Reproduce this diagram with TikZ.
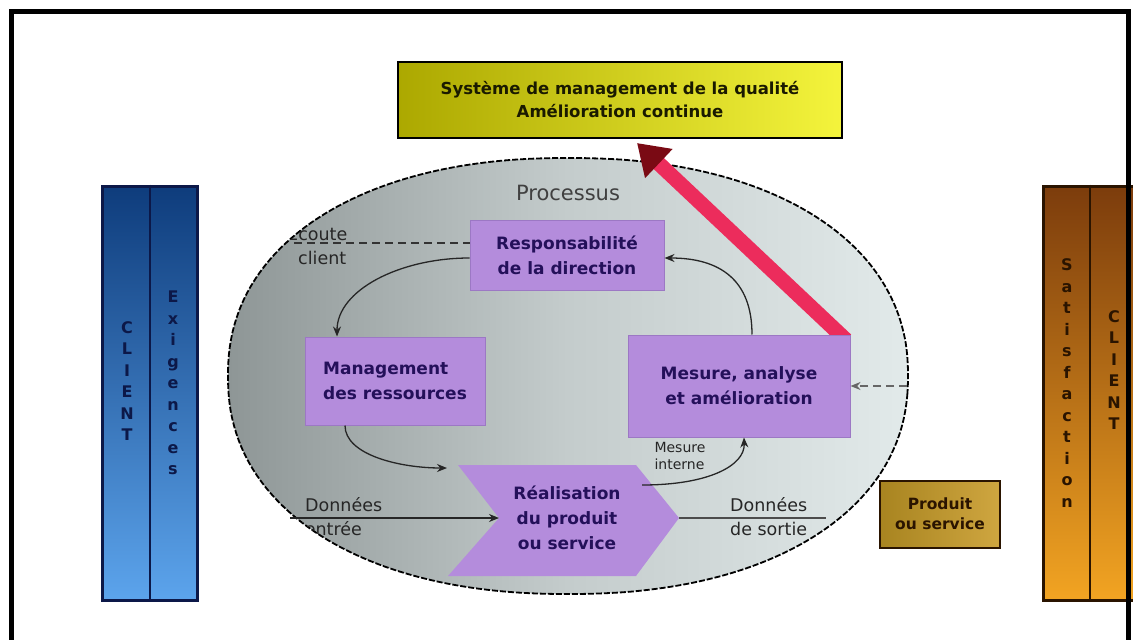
\documentclass[tikz,border=0pt]{standalone}
\usepackage{fontspec}
\setmainfont{DejaVu Sans}
\usetikzlibrary{arrows.meta,calc}
\definecolor{boxpurple}{HTML}{B48CDC}
\definecolor{boxedge}{HTML}{9C78C4}
\definecolor{boxtext}{HTML}{24105A}
\definecolor{ellleft}{HTML}{8E9696}
\definecolor{ellmid}{HTML}{C4CCCC}
\definecolor{ellright}{HTML}{E2EAEA}
\definecolor{olive}{HTML}{ACA800}
\definecolor{brightyellow}{HTML}{F4F43C}
\definecolor{blueTop}{HTML}{0E3C7C}
\definecolor{blueBot}{HTML}{5CA4EC}
\definecolor{navyline}{HTML}{0C1848}
\definecolor{brownTop}{HTML}{7C3C0C}
\definecolor{orangeBot}{HTML}{F2A422}
\definecolor{brownline}{HTML}{2A1400}
\definecolor{goldL}{HTML}{A88420}
\definecolor{goldR}{HTML}{CFA640}
\definecolor{redarrow}{HTML}{EC2C5C}
\definecolor{darkred}{HTML}{7A0A14}
\definecolor{systext}{HTML}{1A1A00}
\begin{document}
\begin{tikzpicture}[x=1pt,y=-1pt,
  pbox/.style={draw=boxedge, line width=1pt, fill=boxpurple, text=boxtext,
    font=\bfseries\fontsize{17}{25}\selectfont, inner sep=0pt, align=center},
  conn/.style={draw=black!85, line width=1.3pt, -{Stealth[length=10pt,width=8pt]}},
  lbl/.style={font=\fontsize{17.5}{20}\selectfont, text=black!85, inner sep=0pt, anchor=west},
  letters/.style={font=\bfseries\fontsize{16}{21.5}\selectfont, align=center, inner sep=0pt},
  dashline/.style={draw=black!80, line width=2pt, dash pattern=on 8pt off 5pt},
  ]
\useasboundingbox (0,0) rectangle (1133,640);
\fill[white] (0,0) rectangle (1133,640);

% side columns
\node[draw=navyline, line width=3pt, top color=blueTop, bottom color=blueBot,
  minimum width=95, minimum height=414, inner sep=0pt] (leftcol) at (150,393) {};
\draw[navyline, line width=1.5pt] (leftcol.north) -- (leftcol.south);
\node[letters, text=navyline] (lclient) at (127,381) {C\\L\\I\\E\\N\\T};
\node[letters, text=navyline] (exig) at (173,383) {E\\x\\i\\g\\e\\n\\c\\e\\s};

\node[draw=brownline, line width=3pt, top color=brownTop, bottom color=orangeBot,
  minimum width=94, minimum height=414, inner sep=0pt] (rightcol) at (1090,393) {};
\draw[brownline, line width=1.5pt] (rightcol.north) -- (rightcol.south);
\node[letters, text=brownline] (satis) at (1067,383) {S\\a\\t\\i\\s\\f\\a\\c\\t\\i\\o\\n};
\node[letters, text=brownline] (rclient) at (1114,370) {C\\L\\I\\E\\N\\T};

% process (super-)ellipse
\path[draw=black, line width=1.8pt, dash pattern=on 6pt off 2pt,
  left color=ellleft, right color=ellright, middle color=ellmid]
  plot[domain=0.5:358.5, samples=120, smooth cycle]
  ({568+340*sign(cos(\x))*abs(cos(\x))^(0.909)}, {376+218*sign(sin(\x))*abs(sin(\x))^(0.909)});
\node[font=\fontsize{21}{24}\selectfont, text=black!75] (proc) at (568,193) {Processus};

% clipped labels near the border
\begin{scope}
\clip plot[domain=0.5:358.5, samples=120, smooth cycle]
  ({568+340*sign(cos(\x))*abs(cos(\x))^(0.909)}, {376+218*sign(sin(\x))*abs(sin(\x))^(0.909)});
\node[lbl] (ecoute) at (287,233) {Écoute};
\node[lbl] (client) at (298,258) {client};
\node[lbl] (din1) at (305,505) {Données};
\node[lbl] (din2) at (288,529) {d'entrée};
\node[lbl] (dout1) at (730,505) {Données};
\node[lbl] (dout2) at (730,529) {de sortie};
\end{scope}

% red arrow (behind the box)
\coordinate (redtip) at (637,143);
\draw[redarrow, line width=15pt, -{Triangle[length=30pt,width=38pt,color=darkred]}]
  (846,340) -- (redtip);

% boxes
\node[pbox, minimum width=194, minimum height=70] (resp) at (567,255)
  {Responsabilité\\de la direction};
\node[pbox, minimum width=180, minimum height=88, align=left] (mgmt) at (395,381)
  {Management\\des ressources};
\node[pbox, minimum width=222, minimum height=102] (mes) at (739,386)
  {Mesure, analyse\\et amélioration};

% realisation chevron
\coordinate (rtl) at (458,465);
\coordinate (rtr) at (636,465);
\coordinate (rtip) at (679,518);
\coordinate (rbr) at (636,576);
\coordinate (rbl) at (448,576);
\coordinate (rnotch) at (499,518);
\fill[boxpurple] (rtl) -- (rtr) -- (rtip) -- (rbr) -- (rbl) -- (rnotch) -- cycle;
\node[pbox, draw=none, fill=none] (real) at (567,518) {Réalisation\\du produit\\ou service};

% top box
\node[draw=black, line width=2.5pt, left color=olive, right color=brightyellow,
  minimum width=444, minimum height=76, inner sep=0pt, text=systext, align=center,
  font=\bfseries\fontsize{16.5}{23}\selectfont] (sys) at (620,100)
  {Système de management de la qualité\\Amélioration continue};

% product box
\node[draw=brownline, line width=2pt, left color=goldL, right color=goldR,
  minimum width=120, minimum height=67, inner sep=0pt, text=brownline, align=center,
  font=\bfseries\fontsize{15.5}{20}\selectfont] (prod) at (940,514) {Produit\\ou service};

% cycle connectors
\draw[conn] ($(resp.west)+(0,3)$) .. controls (400,258) and (337,290) .. ($(mgmt.north)+(-58,0)$);
\draw[conn] ($(mgmt.south)+(-50,0)$) .. controls (345,455) and (400,468) .. ($(rtl)+(-11,3)$);
\draw[conn] ($(rtr)+(6,20)$) .. controls (710,485) and (745,465) .. ($(mes.south)+(5,0)$);
\draw[conn] ($(mes.north)+(13,0)$) .. controls (752,280) and (720,258) .. ($(resp.east)+(0,3)$);
\node[font=\fontsize{14}{17}\selectfont, text=black!85, align=left, inner sep=0pt]
  (mint) at (680,456) {Mesure\\interne};

% inputs / outputs
\coordinate (ecl) at (294,243);
\draw[dashline] (ecl) -- ($(resp.west)+(0,-12)$);
\coordinate (mesin) at (907,386);
\draw[dashline, draw=black!60, -{Stealth[length=10pt,width=8pt]}] (mesin) -- (mes.east);
\coordinate (din) at (290,518);
\draw[conn] (din) -- (rnotch);
\coordinate (dout) at (826,518);
\draw[draw=black!70, line width=1.3pt] (rtip) -- (dout);

% frame
\draw[line width=5pt] (11,640) -- (11,11) -- (1128,11) -- (1128,640);
\end{tikzpicture}
\end{document}
